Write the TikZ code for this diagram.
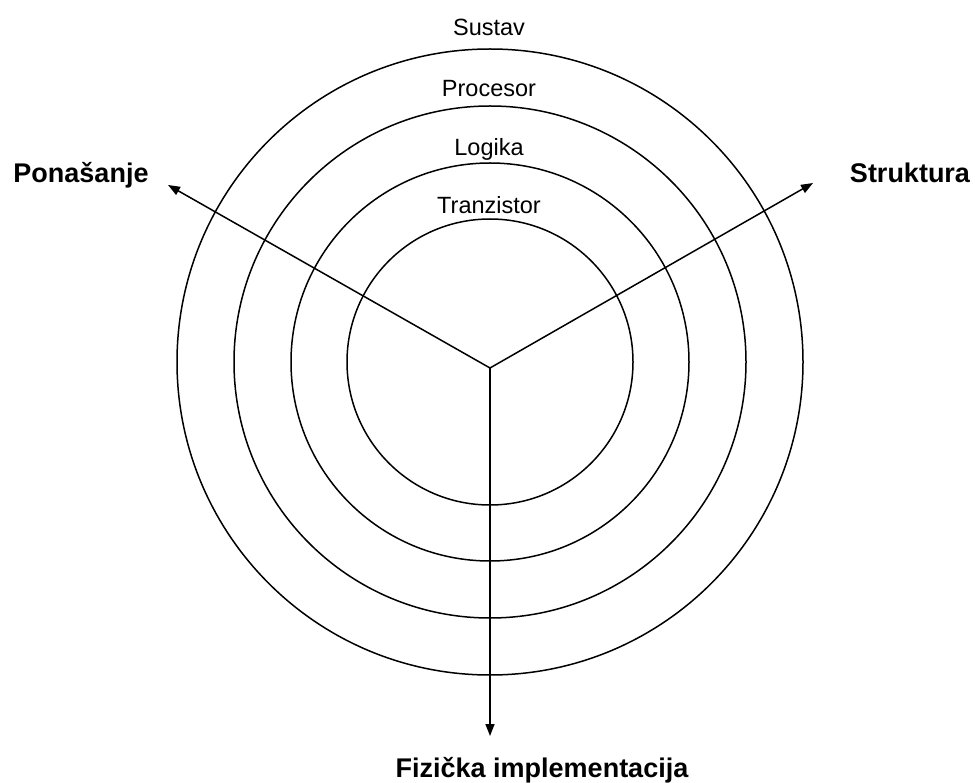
\documentclass[tikz,border=0pt]{standalone}
\usepackage{fontspec}
\setmainfont{Liberation Sans}
\usetikzlibrary{arrows.meta}
\begin{document}
\begin{tikzpicture}[x=1pt,y=-1pt,
  ring/.style={line width=1.5pt},
  axis/.style={line width=1.5pt,-{Triangle[length=12pt,width=9pt]}},
  lvl/.style={anchor=base,inner sep=0pt,font=\fontsize{23.5}{28}\selectfont},
  dir/.style={anchor=base,inner sep=0pt,font=\fontsize{27}{32}\selectfont\bfseries}]
\useasboundingbox (0,0) rectangle (975,783);
\coordinate (c) at (490,362);
\coordinate (o) at (490,368);
\draw[ring] (c) circle[radius=313];
\draw[ring] (c) circle[radius=256];
\draw[ring] (c) circle[radius=199];
\draw[ring] (c) circle[radius=143];
\coordinate (tl) at (168,185);
\coordinate (tr) at (813,183);
\coordinate (tb) at (490,736);
\draw[axis] (o) -- (tl);
\draw[axis] (o) -- (tr);
\draw[axis] (o) -- (tb);
\node[lvl] (sustav) at (489,36) {Sustav};
\node[lvl] (procesor) at (489,97) {Procesor};
\node[lvl] (logika) at (489,156) {Logika};
\node[lvl] (tranzistor) at (489,214) {Tranzistor};
\node[dir] (pon) at (81,183) {Ponašanje};
\node[dir] (str) at (910,183) {Struktura};
\node[dir] (fiz) at (542,777) {Fizička implementacija};
\end{tikzpicture}
\end{document}
